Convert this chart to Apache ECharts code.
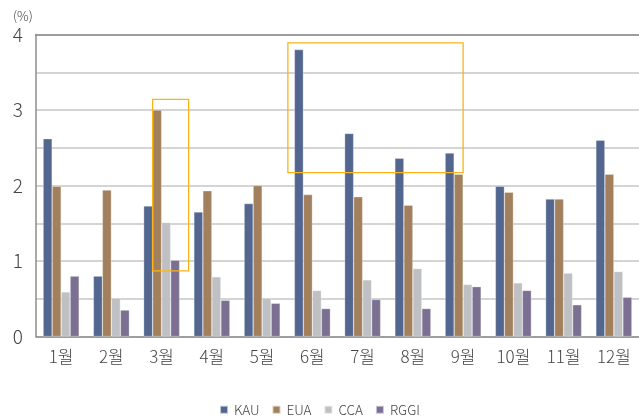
<!DOCTYPE html>
<html>
<head>
<meta charset="utf-8">
<script src="https://cdn.jsdelivr.net/npm/echarts@6/dist/echarts.min.js"></script>
<style>
  html, body { margin: 0; padding: 0; background: #fff; }
  #chart { width: 639px; height: 417px; }
</style>
</head>
<body>
<div id="chart"></div>
<script>
// Monthly figures (%) for four carbon markets
const months = ['1월', '2월', '3월', '4월', '5월', '6월', '7월', '8월', '9월', '10월', '11월', '12월'];
const kau  = [2.62, 0.80, 1.73, 1.65, 1.76, 3.80, 2.69, 2.36, 2.43, 1.99, 1.82, 2.60];
const eua  = [1.99, 1.94, 3.00, 1.93, 2.00, 1.88, 1.85, 1.74, 2.15, 1.91, 1.82, 2.15];
const cca  = [0.59, 0.51, 1.51, 0.79, 0.51, 0.61, 0.75, 0.90, 0.69, 0.71, 0.84, 0.86];
const rggi = [0.80, 0.35, 1.01, 0.48, 0.44, 0.37, 0.49, 0.37, 0.66, 0.61, 0.42, 0.52];
const yTicks = [0, 1, 2, 3, 4];

const FONT = '"Noto Sans CJK KR", "Noto Sans", sans-serif';
const colors = ['#53668f', '#a2805d', '#bfc0c4', '#7b7092'];

const chart = echarts.init(document.getElementById('chart'), null, { renderer: 'canvas' });

function bar(name, data, color) {
  return {
    name, type: 'bar', data,
    barWidth: 9, barGap: '0%',
    itemStyle: { color, borderColor: 'rgba(255,255,255,0.6)', borderWidth: 0.5 },
    silent: true
  };
}

chart.setOption({
  animation: false,
  textStyle: { fontFamily: FONT },
  grid: { left: 36, right: 0, top: 34.5, bottom: 80.5, containLabel: false },
  title: {
    text: '(%)', left: 8, top: 5,
    textStyle: { fontFamily: FONT, fontSize: 13, fontWeight: 300, color: '#444' }
  },
  legend: {
    top: 398, left: 'center',
    itemWidth: 8, itemHeight: 8, itemGap: 12,
    icon: 'rect',
    textStyle: { fontFamily: FONT, fontSize: 13.5, fontWeight: 300, color: '#444', padding: [0, 0, 0, 1] },
    data: ['KAU', 'EUA', 'CCA', 'RGGI']
  },
  xAxis: [{
    type: 'category', data: months,
    axisLine: { lineStyle: { color: '#8c8c8c', width: 1.5 } },
    axisTick: { show: false },
    axisLabel: { fontFamily: FONT, fontSize: 17, fontWeight: 300, color: '#444', margin: 12 }
  }, {
    type: 'category', data: months, position: 'top',
    axisLine: { show: true, lineStyle: { color: '#8c8c8c', width: 1.5 } },
    axisTick: { show: false }, axisLabel: { show: false }
  }],
  yAxis: {
    type: 'value', min: 0, max: 4, interval: 0.5,
    axisLine: { show: true, lineStyle: { color: '#8c8c8c', width: 1.5 } },
    axisTick: { show: false },
    splitLine: { lineStyle: { color: '#c6c6c6', width: 1.5 } },
    axisLabel: {
      fontFamily: FONT, fontSize: 19, fontWeight: 300, color: '#444', margin: 13,
      formatter: v => (yTicks.includes(v) ? String(v) : '')
    }
  },
  series: [
    bar('KAU', kau, colors[0]),
    bar('EUA', eua, colors[1]),
    bar('CCA', cca, colors[2]),
    bar('RGGI', rggi, colors[3])
  ]
});

// Highlight boxes placed through the axes' own scales
function highlight() {
  const px = (i) => chart.convertToPixel({ xAxisIndex: 0 }, i);
  const py = (v) => chart.convertToPixel({ yAxisIndex: 0 }, v);
  const box = (x0, x1, v0, v1) => ({
    type: 'rect', silent: true, z: 100,
    shape: { x: x0, y: py(v1), width: x1 - x0, height: py(v0) - py(v1) },
    style: { fill: 'none', stroke: '#fbb417', lineWidth: 1.3 }
  });
  chart.setOption({
    graphic: [
      box(px(2) - 9, px(2) + 27, 0.87, 3.14),
      box(px(5) - 24.5, px(8), 2.17, 3.89)
    ]
  });
}
highlight();
</script>
</body>
</html>
